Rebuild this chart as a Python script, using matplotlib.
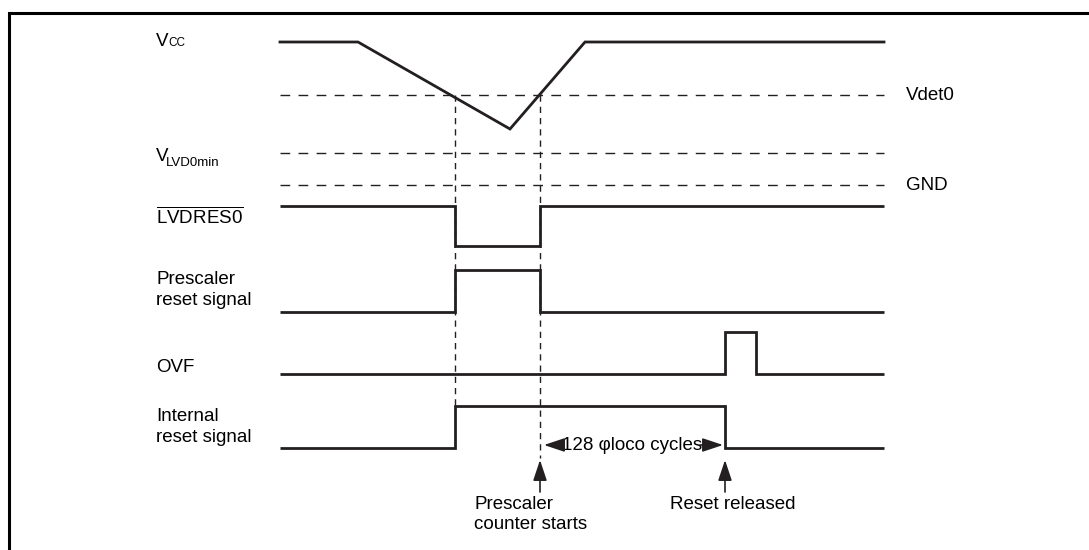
"""
Timing diagram: LVD0 reset sequence (Vcc drop, LVDRES0, prescaler, OVF, internal reset).
"""
import matplotlib
matplotlib.use('Agg')  # no display
import matplotlib.pyplot as plt

plt.rcParams['font.family'] = ['Liberation Sans', 'DejaVu Sans']
plt.rcParams['mathtext.fontset'] = 'custom'
plt.rcParams['mathtext.rm'] = 'Liberation Sans'

INK = '#231f20'
FS = 13.5

# ── Data: time positions of events (horizontal axis of the diagram) ──────────
t_start, t_end = 280, 884
det_fall, det_rise = 455, 540   # Vcc crosses Vdet0 going down / up
ovf_rise, ovf_fall = 725, 756   # OVF pulse

vcc_t = [280, 358, 510, 585, 884]
vcc_v = [42, 42, 129, 42, 42]   # vertical position of the Vcc curve

level_names = ['Vdet0', '', 'GND']
level_y = [95, 153, 185]

row_names = [r'$\overline{\mathrm{LVDRES0}}$', 'Prescaler\nreset signal',
             'OVF', 'Internal\nreset signal']
row_times = [
    [t_start, det_fall, det_rise, t_end],
    [t_start, det_fall, det_rise, t_end],
    [t_start, ovf_rise, ovf_fall, t_end],
    [t_start, det_fall, ovf_rise, t_end],
]
row_states = [[1, 0, 1], [0, 1, 0], [0, 1, 0], [0, 1, 0]]
row_low = [246, 312, 374, 448]
row_high = [206, 270, 332, 406]
row_label_y = [217, 290, 367, 427]

cycles_label = '128 \u03c6loco cycles'
marker_labels = ['Prescaler\ncounter starts', 'Reset released']
marker_t = [det_rise, ovf_rise]
marker_label_x = [474, 670]

fig = plt.figure(figsize=(10.89, 5.5), dpi=100)
ax = fig.add_axes([0, 0, 1, 1])
ax.set_xlim(0, 1089)
ax.set_ylim(550, 0)
ax.axis('off')

# Frame (top and left only)
ax.plot([8.5, 8.5, 1089], [550, 12.5, 12.5], color='black', lw=2.2,
        solid_joinstyle='miter')

# ── Vcc curve and reference levels ───────────────────────────────────────────
ax.plot(vcc_t, vcc_v, color=INK, lw=2.0, solid_joinstyle='miter')
ax.text(156, 46, 'V', fontsize=FS, va='baseline', ha='left')
ax.text(168, 46, 'CC', fontsize=8.5, va='baseline', ha='left')

for name, y in zip(level_names, level_y):
    ax.plot([t_start, t_end], [y, y], color=INK, lw=1.0,
            linestyle=(0, (7, 6)))
    if name:
        ax.text(906, y, name, fontsize=FS, va='center', ha='left')
ax.text(156, 161, 'V', fontsize=FS, va='baseline', ha='left')
ax.text(166, 166, 'LVD0min', fontsize=9.5, va='baseline', ha='left')

# Vertical guides where Vcc crosses Vdet0
ax.plot([det_fall, det_fall], [level_y[0], row_high[3]], color=INK, lw=1.0,
        linestyle=(0, (4.5, 3.6)))
ax.plot([det_rise, det_rise], [level_y[0], 458], color=INK, lw=1.0,
        linestyle=(0, (4.5, 3.6)))

# ── Digital signals ─────────────────────────────────────────────────────────
for name, t, s, lo, hi, ly in zip(row_names, row_times, row_states,
                                  row_low, row_high, row_label_y):
    ys = [lo - st * (lo - hi) for st in s]
    ys.append(ys[-1])
    ax.step(t, ys, where='post', color=INK, lw=2.0,
            solid_joinstyle='miter', solid_capstyle='butt')
    ax.text(156, ly, name, fontsize=FS, va='center', ha='left',
            linespacing=1.25)

# ── 128 cycles span ──────────────────────────────────────────────────────────
span_y = 445
ax.text(562, span_y, cycles_label, fontsize=FS, va='center', ha='left')
head = dict(arrowstyle='-|>,head_length=0.9,head_width=0.3', color=INK,
            lw=1.2, shrinkA=0, shrinkB=0, mutation_scale=14)
ax.annotate('', xy=(det_rise + 4, span_y), xytext=(562, span_y),
            arrowprops=head)
ax.annotate('', xy=(ovf_rise - 2, span_y), xytext=(700, span_y),
            arrowprops=head)

# Up arrows with their captions
for t, lab, lx in zip(marker_t, marker_labels, marker_label_x):
    ax.annotate('', xy=(t, 460), xytext=(t, 492), arrowprops=head)
    ax.text(lx, 496, lab, fontsize=FS, va='top', ha='left', linespacing=1.25)

plt.savefig('out.png', dpi=100)
plt.close()
